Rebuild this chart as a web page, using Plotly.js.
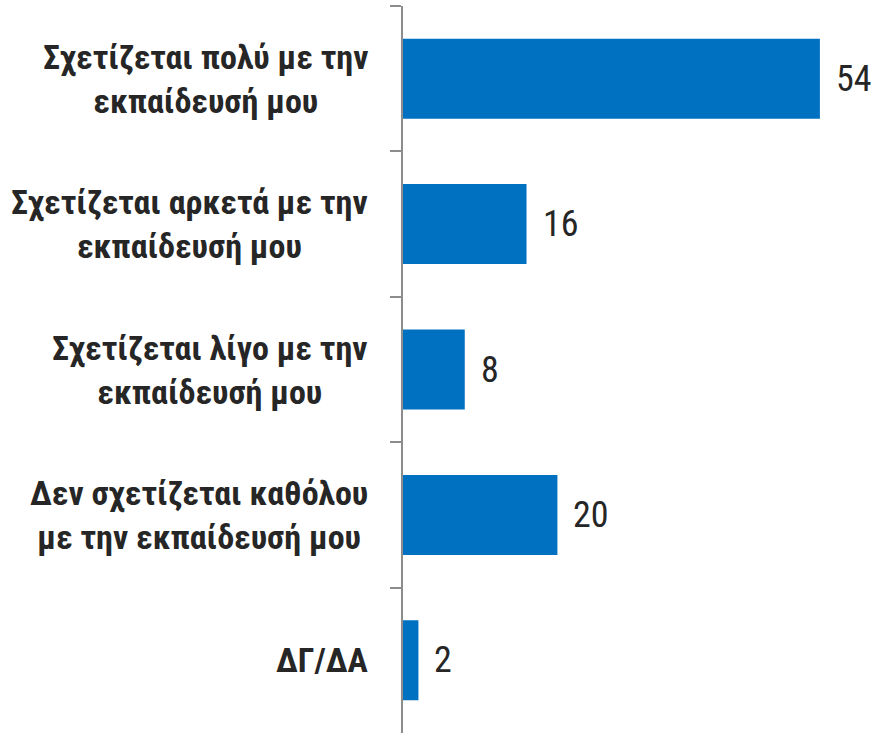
<!DOCTYPE html>
<html>
<head>
<meta charset="utf-8">
<script src="https://cdn.plot.ly/plotly-3.0.1.min.js"></script>
<style>
  html, body { margin: 0; padding: 0; background: #ffffff; }
  #chart { width: 889px; height: 736px; }
</style>
</head>
<body>
<div id="chart"></div>
<script>
const categories = [
  "Σχετίζεται πολύ με την<br>εκπαίδευσή μου",
  "Σχετίζεται αρκετά με την<br>εκπαίδευσή μου",
  "Σχετίζεται λίγο με την<br>εκπαίδευσή μου",
  "Δεν σχετίζεται καθόλου<br>με την εκπαίδευσή μου",
  "ΔΓ/ΔΑ"
];
const values = [54, 16, 8, 20, 2];

const FONT = "'Roboto Condensed', Roboto, sans-serif";
const TEXT_COLOR = "#262626";

const trace = {
  type: "bar",
  orientation: "h",
  y: categories,
  x: values,
  marker: { color: "#0070C0", line: { width: 0 } },
  hoverinfo: "skip"
};

const annotations = [];
categories.forEach((c, i) => {
  annotations.push({
    xref: "paper", yref: "y",
    x: 0, y: c,
    text: "<b>" + c + "</b>",
    xanchor: "right", yanchor: "middle",
    align: "center",
    xshift: -33,
    showarrow: false,
    font: { family: FONT, size: 34, color: TEXT_COLOR }
  });
  annotations.push({
    xref: "x", yref: "y",
    x: values[i], y: c,
    text: String(values[i]),
    xanchor: "left", yanchor: "middle",
    xshift: 14,
    showarrow: false,
    font: { family: FONT, size: 36, color: TEXT_COLOR }
  });
});

const layout = {
  width: 889, height: 736,
  margin: { l: 403, r: 0, t: 6, b: 3, pad: 0 },
  paper_bgcolor: "#ffffff",
  plot_bgcolor: "#ffffff",
  bargap: 0.45,
  showlegend: false,
  xaxis: {
    range: [0, 62.95],
    visible: false,
    showgrid: false,
    zeroline: false
  },
  yaxis: {
    type: "category",
    autorange: "reversed",
    showticklabels: false,
    showline: true,
    linecolor: "#8c8c8c",
    linewidth: 2,
    ticks: "outside",
    tickson: "boundaries",
    ticklen: 11,
    tickwidth: 2,
    tickcolor: "#8c8c8c",
    showgrid: false,
    zeroline: false
  },
  annotations: annotations
};

Plotly.newPlot("chart", [trace], layout, { displayModeBar: false, staticPlot: true });
</script>
</body>
</html>
